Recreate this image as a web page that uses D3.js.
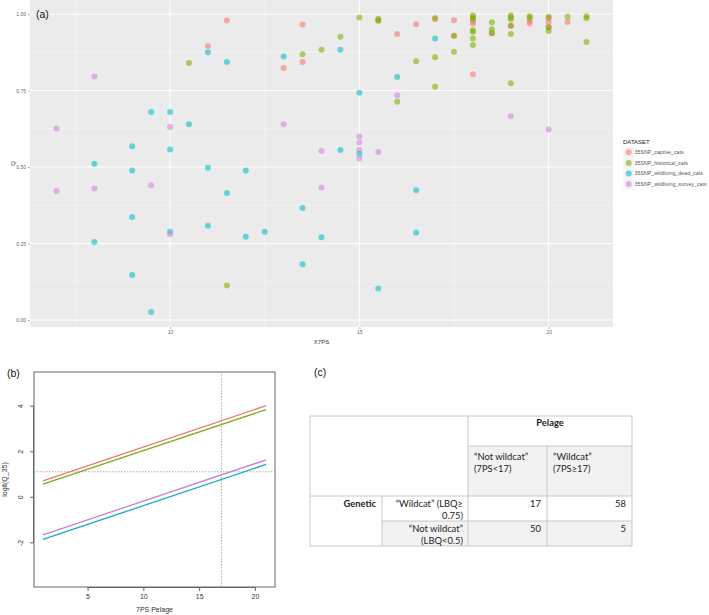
<!DOCTYPE html>
<html><head><meta charset="utf-8">
<script src="https://cdn.jsdelivr.net/npm/d3@7"></script>
<style>body{margin:0;background:#fff}svg{display:block}</style>
</head><body>
<svg id="fig" width="709" height="615"></svg>
<script>
// ---------- Panel (a) data ----------
const datasetNames = ["35SNP_captive_cats","35SNP_historical_cats","35SNP_wildliving_dead_cats","35SNP_wildliving_survey_cats"];
const captiveX = [11,11.5,13,13.5,13.5,15.5,16,16.5,17,17.5,17.5,18,18,18,18.5,19,19.5,19.5,20,20,20,20.5];
const captiveQ = [0.896,0.979,0.824,0.966,0.843,0.98,0.935,0.967,0.988,0.98,0.929,0.978,0.969,0.803,0.937,0.962,0.978,0.969,0.986,0.974,0.957,0.974];
const historicalX = [10.5,11.5,13.5,14,14.5,15,15.5,15.5,16,16.5,17,17,17,17.5,17.5,18,18,18,18,18,18,18,18.5,18.5,18.5,19,19,19,19,19,19,19.5,19.5,20,20,20,20.5,21,21,21];
const historicalQ = [0.84,0.113,0.869,0.883,0.926,0.989,0.985,0.978,0.713,0.846,0.984,0.859,0.762,0.929,0.877,0.995,0.989,0.985,0.947,0.941,0.92,0.899,0.973,0.95,0.937,0.995,0.989,0.983,0.962,0.935,0.774,0.993,0.988,0.991,0.957,0.945,0.991,0.993,0.986,0.909];
const deadX = [8,8,9,9,9,9,9.5,9.5,10,10,10,10.5,11,11,11,11.5,11.5,12,12,12.5,13,13.5,13.5,14,14.5,14.5,15,15,15.5,16,16.5,16.5,17];
const deadQ = [0.511,0.255,0.568,0.489,0.337,0.147,0.68,0.026,0.68,0.557,0.288,0.64,0.875,0.498,0.308,0.843,0.415,0.489,0.272,0.288,0.861,0.366,0.182,0.27,0.883,0.556,0.743,0.543,0.103,0.794,0.424,0.285,0.92];
const surveyX = [7,7,8,8,9.5,10,10,13,14,14,15,15,15,15,15.5,16,19,20];
const surveyQ = [0.626,0.422,0.796,0.43,0.44,0.631,0.28,0.64,0.552,0.433,0.6,0.58,0.556,0.528,0.549,0.734,0.666,0.623];
const xTicksA = [10,15,20];
const yTicksA = [0,0.25,0.5,0.75,1];

// ---------- Panel (b) data ----------
const pelageEnds = [1,21];
const captiveLogit = [0.70,4.00];
const historicalLogit = [0.56,3.83];
const surveyLogit = [-1.67,1.62];
const deadLogit = [-1.87,1.42];
const thresholdQ = 0.75;
const thresholdPelage = 17;
const xTicksB = [5,10,15,20];
const yTicksB = [-2,0,2,4];

// ---------- Panel (c) data ----------
const pelageCols = [["“Not wildcat”","(7PS<17)"],["“Wildcat”","(7PS≥17)"]];
const geneticRows = [["“Wildcat” (LBQ≥","0.75)"],["“Not wildcat”","(LBQ<0.5)"]];
const counts = [[17,58],[50,5]];

const svg = d3.select("#fig");
const F = "Liberation Sans, Arial, sans-serif";

// ================= Panel (a) =================
const A = {l:30, r:613, t:0, b:327};
const xa = d3.scaleLinear().domain([6.3,21.7]).range([A.l,A.r]);
const ya = d3.scaleLinear().domain([-0.023,1.046]).range([A.b,A.t]);
const ga = svg.append("g");
ga.append("rect").attr("x",A.l).attr("y",A.t).attr("width",A.r-A.l).attr("height",A.b-A.t).attr("fill","#EBEBEB");
const xMinor = [7.5,12.5,17.5], yMinor = [0.125,0.375,0.625,0.875];
ga.selectAll(".xm").data(xMinor).join("line").attr("x1",d=>xa(d)).attr("x2",d=>xa(d)).attr("y1",A.t).attr("y2",A.b).attr("stroke","#fff").attr("stroke-width",0.5).attr("opacity",0.8);
ga.selectAll(".ym").data(yMinor).join("line").attr("y1",d=>ya(d)).attr("y2",d=>ya(d)).attr("x1",A.l).attr("x2",A.r).attr("stroke","#fff").attr("stroke-width",0.5).attr("opacity",0.8);
ga.selectAll(".xM").data(xTicksA).join("line").attr("x1",d=>xa(d)).attr("x2",d=>xa(d)).attr("y1",A.t).attr("y2",A.b).attr("stroke","#fff").attr("stroke-width",1);
ga.selectAll(".yM").data(yTicksA).join("line").attr("y1",d=>ya(d)).attr("y2",d=>ya(d)).attr("x1",A.l).attr("x2",A.r).attr("stroke","#fff").attr("stroke-width",1);
const axA = d3.axisBottom(xa).tickValues(xTicksA).tickSize(2).tickPadding(1);
const gxa = ga.append("g").attr("transform",`translate(0,${A.b})`).call(axA);
gxa.select(".domain").remove();
gxa.selectAll("line").attr("stroke","#666").attr("stroke-width",0.5);
gxa.selectAll("text").attr("font-family",F).attr("font-size",5).attr("fill","#666");
const ayA = d3.axisLeft(ya).tickValues(yTicksA).tickFormat(d3.format(".2f")).tickSize(2).tickPadding(2);
const gya = ga.append("g").attr("transform",`translate(${A.l},0)`).call(ayA);
gya.select(".domain").remove();
gya.selectAll("line").attr("stroke","#666").attr("stroke-width",0.5);
gya.selectAll("text").attr("font-family",F).attr("font-size",5).attr("fill","#666");
ga.append("text").attr("x",(A.l+A.r)/2).attr("y",344).attr("text-anchor","middle").attr("font-family",F).attr("font-size",6).attr("fill","#333").text("X7PS");
ga.append("text").attr("transform",`translate(15,${(A.t+A.b)/2}) rotate(-90)`).attr("text-anchor","middle").attr("font-family",F).attr("font-size",6).attr("fill","#333").text("Q");
const pointColors = ["#F8766D","#7CAE00","#00BFC4","#CB84D4"];
const seriesA = [[captiveX,captiveQ],[historicalX,historicalQ],[deadX,deadQ],[surveyX,surveyQ]];
seriesA.forEach(([xs,qs],i)=>{
  ga.append("g").selectAll("circle").data(xs.map((x,j)=>[x,qs[j]])).join("circle")
    .attr("cx",d=>xa(d[0])).attr("cy",d=>ya(d[1])).attr("r",3)
    .attr("fill",pointColors[i]).attr("fill-opacity",0.58);
});
ga.append("text").attr("x",36).attr("y",18).attr("font-family",F).attr("font-size",10.5).attr("fill","#111").text("(a)");
// legend
const lg = svg.append("g");
lg.append("text").attr("x",623).attr("y",144).attr("font-family",F).attr("font-size",6).attr("fill","#222").text("DATASET");
datasetNames.forEach((n,i)=>{
  const cy = 152.3 + i*10.6;
  lg.append("rect").attr("x",623.5).attr("y",cy-5).attr("width",10).attr("height",10).attr("fill","#F2F2F2");
  lg.append("circle").attr("cx",628.7).attr("cy",cy).attr("r",3).attr("fill",pointColors[i]).attr("fill-opacity",0.58);
  lg.append("text").attr("x",634.5).attr("y",cy+1.8).attr("font-family",F).attr("font-size",5.3).attr("fill","#555").text(n);
});

// ================= Panel (b) =================
const B = {l:34, r:275, t:372, b:587};
const xb = d3.scaleLinear().domain([0.2,21.8]).range([B.l,B.r]);
const yb = d3.scaleLinear().domain([-3.96,5.48]).range([B.b,B.t]);
const gb = svg.append("g");
gb.append("rect").attr("x",B.l).attr("y",B.t).attr("width",B.r-B.l).attr("height",B.b-B.t).attr("fill","none").attr("stroke","#666").attr("stroke-width",1);
const axB = d3.axisBottom(xb).tickValues(xTicksB).tickSize(4).tickPadding(3);
const gxb = gb.append("g").attr("transform",`translate(0,${B.b})`).call(axB);
gxb.select(".domain").attr("d",`M${xb(5)},0.5H${xb(20)}`).attr("stroke","#666");
gxb.selectAll("line").attr("stroke","#666");
gxb.selectAll("text").attr("font-family",F).attr("font-size",7).attr("fill","#333");
const ayB = d3.axisLeft(yb).tickValues(yTicksB).tickSize(4).tickFormat(d=>d<0?"-"+Math.abs(d):d);
const gyb = gb.append("g").attr("transform",`translate(${B.l},0)`).call(ayB);
gyb.select(".domain").attr("d",`M-0.5,${yb(-2)}V${yb(4)}`).attr("stroke","#666");
gyb.selectAll("line").attr("stroke","#666");
gyb.selectAll("text").attr("font-family",F).attr("font-size",7).attr("fill","#333")
  .attr("text-anchor","middle").attr("x",0).attr("dy",null).attr("y",0)
  .attr("transform","translate(-11,0) rotate(-90)");
gb.append("text").attr("x",(B.l+B.r)/2).attr("y",612).attr("text-anchor","middle").attr("font-family",F).attr("font-size",7).attr("fill","#333").text("7PS Pelage");
gb.append("text").attr("transform",`translate(7,${(B.t+B.b)/2}) rotate(-90)`).attr("text-anchor","middle").attr("font-family",F).attr("font-size",7).attr("fill","#333").text("logit(Q_35)");
const logit = p=>Math.log(p/(1-p));
gb.append("line").attr("x1",B.l).attr("x2",B.r).attr("y1",yb(logit(thresholdQ))).attr("y2",yb(logit(thresholdQ))).attr("stroke","#aaa").attr("stroke-dasharray","1.5,1.5").attr("stroke-width",1);
gb.append("line").attr("y1",B.t).attr("y2",B.b).attr("x1",xb(thresholdPelage)).attr("x2",xb(thresholdPelage)).attr("stroke","#aaa").attr("stroke-dasharray","1.5,1.5").attr("stroke-width",1);
const lineColors = ["#F0766F","#7CAE1A","#10AECB","#C77CE0"];
const seriesB = [captiveLogit,historicalLogit,deadLogit,surveyLogit];
const lineGen = d3.line().x(d=>xb(d[0])).y(d=>yb(d[1]));
seriesB.forEach((vals,i)=>{
  gb.append("path").attr("d",lineGen(pelageEnds.map((x,j)=>[x,vals[j]]))).attr("fill","none").attr("stroke",lineColors[i]).attr("stroke-width",1.3);
});
gb.append("text").attr("x",7).attr("y",377).attr("font-family",F).attr("font-size",10.5).attr("fill","#111").text("(b)");

// ================= Panel (c) =================
const gc = svg.append("g");
const TF = "Lato, 'Open Sans', sans-serif";
gc.append("text").attr("x",314).attr("y",376).attr("font-family",F).attr("font-size",10.5).attr("fill","#111").text("(c)");
const X = {o:310, c1:382, c2:468, c3:547, e:632};
const Y = {o:416, r1:446, r2:496, r3:521, e:546};
gc.append("rect").attr("x",X.c2).attr("y",Y.r1).attr("width",X.e-X.c2).attr("height",Y.r2-Y.r1).attr("fill","#F2F2F2");
gc.append("rect").attr("x",X.c1).attr("y",Y.r3).attr("width",X.e-X.c1).attr("height",Y.e-Y.r3).attr("fill","#F2F2F2");
const bc = "#C8C8C8";
const segs = [
  [X.o,Y.o,X.e,Y.o],[X.o,Y.e,X.e,Y.e],[X.o,Y.o,X.o,Y.e],[X.e,Y.o,X.e,Y.e],
  [X.c2,Y.o,X.c2,Y.e],[X.c3,Y.r1,X.c3,Y.e],[X.c1,Y.r2,X.c1,Y.e],
  [X.c2,Y.r1,X.e,Y.r1],[X.o,Y.r2,X.e,Y.r2],[X.c1,Y.r3,X.e,Y.r3]
];
gc.selectAll(".seg").data(segs).join("line").attr("x1",d=>d[0]).attr("y1",d=>d[1]).attr("x2",d=>d[2]).attr("y2",d=>d[3]).attr("stroke",bc).attr("stroke-width",1);
const ts = 9.4;
gc.append("text").attr("x",(X.c2+X.e)/2).attr("y",425.5).attr("text-anchor","middle").attr("font-family",TF).attr("font-weight","bold").attr("font-size",ts).attr("fill","#222").text("Pelage");
[X.c2, X.c3].forEach((cx,i)=>{
  pelageCols[i].forEach((t,k)=>{
    gc.append("text").attr("x",cx+6).attr("y",460+k*12).attr("font-family",TF).attr("font-size",ts).attr("fill","#222").text(t);
  });
});
gc.append("text").attr("x",376).attr("y",506.5).attr("text-anchor","end").attr("font-family",TF).attr("font-weight","bold").attr("font-size",ts).attr("fill","#222").text("Genetic");
const rowTop = [Y.r2, Y.r3];
geneticRows.forEach((lines,r)=>{
  lines.forEach((t,k)=>{
    gc.append("text").attr("x",X.c2-5).attr("y",rowTop[r]+10.5+k*12.5).attr("text-anchor","end").attr("font-family",TF).attr("font-size",ts).attr("fill","#222").text(t);
  });
  counts[r].forEach((v,c)=>{
    gc.append("text").attr("x",(c===0?X.c3:X.e)-6).attr("y",rowTop[r]+10.5).attr("text-anchor","end").attr("font-family",TF).attr("font-size",ts).attr("fill","#222").text(v);
  });
});
</script>
</body></html>
